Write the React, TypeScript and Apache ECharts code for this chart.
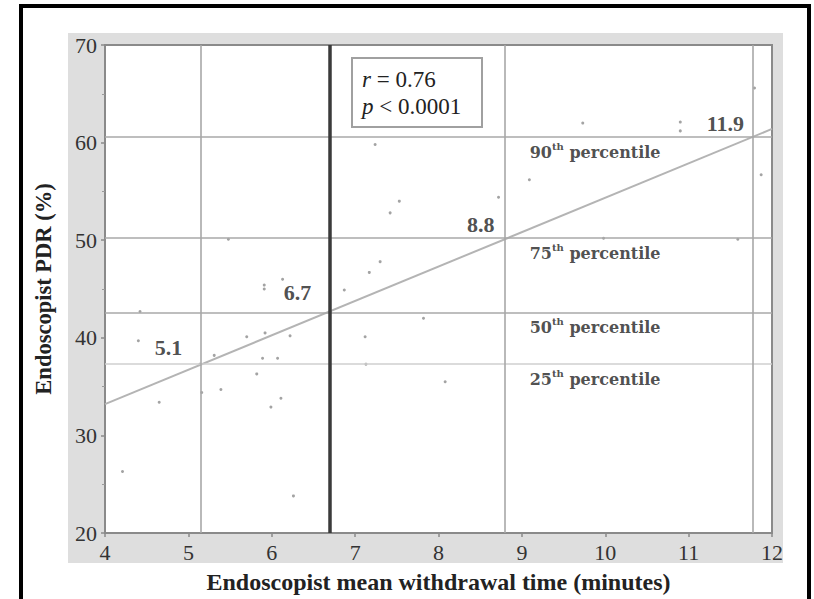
import React, { useEffect, useRef } from "react";
import * as echarts from "echarts";

// Endoscopist mean withdrawal time (minutes) and PDR (%)
const withdrawalTime = [
  4.21, 4.4, 4.42, 4.65, 5.14, 5.16, 5.31, 5.39, 5.48, 5.7, 5.82, 5.89, 5.91, 5.91, 5.92, 5.99, 6.07, 6.11,
  6.13, 6.22, 6.26, 6.87, 7.12, 7.13, 7.17, 7.24, 7.3, 7.42, 7.53, 7.82, 8.08, 8.72, 9.09, 9.73, 9.98, 10.9,
  10.9, 11.59, 11.79, 11.87,
];
const pdr = [
  26.3, 39.7, 42.7, 33.4, 37.3, 34.4, 38.2, 34.7, 50.1, 40.1, 36.3, 37.9, 45.4, 45.0, 40.5, 32.9, 37.9, 33.8,
  46.0, 40.2, 23.8, 44.9, 40.1, 37.3, 46.7, 59.8, 47.8, 52.8, 54.0, 42.0, 35.5, 54.4, 56.2, 62.0, 50.2, 62.1,
  61.2, 50.1, 65.6, 56.7,
];

// Regression fit line endpoints
const fitX = [4, 12];
const fitY = [33.2, 61.4];

// Percentile thresholds of PDR and corresponding withdrawal times
const percentileNames = ["25", "50", "75", "90"];
const percentilePdr = [37.3, 42.6, 50.2, 60.6];
const cutTime = [5.15, 6.7, 8.8, 11.77];
const cutLabels = ["5.1", "6.7", "8.8", "11.9"];

const xTicks = { min: 4, max: 12, interval: 1 };
const yTicks = { min: 20, max: 70, interval: 10 };

const SERIF = "Liberation Serif, Times New Roman, DejaVu Serif, serif";
const WIDE_SERIF = "DejaVu Serif, serif";

export default function App() {
  const ref = useRef<HTMLDivElement>(null);

  useEffect(() => {
    if (!ref.current) return;
    const chart = echarts.init(ref.current, undefined, { renderer: "svg" });

    const points = withdrawalTime.map((t, i) => [t, pdr[i]]);
    const fit = fitX.map((x, i) => [x, fitY[i]]);

    const cutOffsets = [
      [-32, -16],
      [-32, -19],
      [-24, -13],
      [-27, -13],
    ];
    const cutData = cutTime.map((t, i) => ({
      value: [t, percentilePdr[i]],
      label: { position: cutOffsets[i] },
    }));
    const pctData = percentileNames.map((p, i) => ({
      value: [cutTime[2], percentilePdr[i]],
      label: {
        formatter: `{n|${p}}{s|th}{n| percentile}`,
      },
    }));

    const vLines = cutTime.map((t, i) => ({
      xAxis: t,
      lineStyle:
        i === 1
          ? { color: "#3a3a3a", width: 3.5, type: "solid" }
          : { color: "#a8a8a8", width: 1.6, type: "solid" },
    }));
    const hLines = percentilePdr.map((v, i) => ({
      yAxis: v,
      lineStyle: { color: i === 0 ? "#cfcfcf" : "#a8a8a8", width: 1.6, type: "solid" },
    }));

    chart.setOption({
      animation: false,
      backgroundColor: "#ffffff",
      textStyle: { fontFamily: SERIF },
      grid: {
        left: 105,
        right: 42,
        top: 45,
        bottom: 63,
        show: true,
        backgroundColor: "#ffffff",
        borderColor: "#8a8a8a",
        borderWidth: 2,
      },
      graphic: [
        {
          type: "rect",
          z: -10,
          shape: { x: 68, y: 33, width: 715, height: 530 },
          style: { fill: "#dedede" },
        },
        {
          type: "rect",
          z: 100,
          shape: { x: 21, y: 6, width: 788, height: 700 },
          style: { fill: "none", stroke: "#000000", lineWidth: 4 },
        },
        {
          type: "rect",
          z: 100,
          shape: { x: 352, y: 58, width: 130, height: 69 },
          style: { fill: "#ffffff", stroke: "#a0a0a0", lineWidth: 2 },
        },
        {
          type: "text",
          z: 101,
          x: 362,
          y: 79,
          style: {
            text: "{i|r} = 0.76",
            verticalAlign: "middle",
            rich: {
              i: { fontFamily: SERIF, fontSize: 23, fontStyle: "italic", fill: "#222" },
            },
            fontFamily: SERIF,
            fontSize: 23,
            fill: "#222",
          },
        },
        {
          type: "text",
          z: 101,
          x: 362,
          y: 106,
          style: {
            text: "{i|p} < 0.0001",
            verticalAlign: "middle",
            rich: {
              i: { fontFamily: SERIF, fontSize: 23, fontStyle: "italic", fill: "#222" },
            },
            fontFamily: SERIF,
            fontSize: 23,
            fill: "#222",
          },
        },
      ],
      xAxis: {
        type: "value",
        min: xTicks.min,
        max: xTicks.max,
        interval: xTicks.interval,
        name: "Endoscopist mean withdrawal time (minutes)",
        nameLocation: "middle",
        nameGap: 37,
        nameTextStyle: { fontFamily: SERIF, fontSize: 24, fontWeight: "bold", color: "#222" },
        axisLine: { show: true, lineStyle: { color: "#8a8a8a", width: 2 } },
        axisTick: { show: true, length: 4, lineStyle: { color: "#8a8a8a", width: 1.5 } },
        axisLabel: { fontFamily: SERIF, fontSize: 22, color: "#333", margin: 8 },
        splitLine: { show: false },
      },
      yAxis: {
        type: "value",
        min: yTicks.min,
        max: yTicks.max,
        interval: yTicks.interval,
        name: "Endoscopist PDR (%)",
        nameLocation: "middle",
        nameGap: 50,
        nameRotate: 90,
        nameTextStyle: { fontFamily: SERIF, fontSize: 22.5, fontWeight: "bold", color: "#222" },
        axisLine: { show: true, lineStyle: { color: "#8a8a8a", width: 2 } },
        axisTick: { show: true, length: 4, lineStyle: { color: "#8a8a8a", width: 1.5 } },
        minorTick: { show: true, splitNumber: 2, length: 3, lineStyle: { color: "#9a9a9a", width: 1 } },
        axisLabel: { fontFamily: SERIF, fontSize: 22, color: "#333", margin: 8 },
        splitLine: { show: false },
      },
      series: [
        {
          type: "scatter",
          name: "Endoscopists",
          data: points,
          symbol: "circle",
          symbolSize: 3,
          itemStyle: { color: "#8c8c8c" },
          z: 3,
          markLine: {
            silent: true,
            symbol: "none",
            label: { show: false },
            data: [...hLines, ...vLines],
          },
        },
        {
          type: "line",
          name: "Fit",
          data: fit,
          showSymbol: false,
          symbol: "none",
          lineStyle: { color: "#b4b4b4", width: 2 },
          z: 4,
        },
        {
          type: "scatter",
          name: "cut labels",
          data: cutData,
          symbolSize: 1,
          itemStyle: { color: "rgba(0,0,0,0)" },
          silent: true,
          z: 5,
          label: {
            show: true,
            align: "center",
            verticalAlign: "middle",
            formatter: (p: any) => cutLabels[p.dataIndex],
            fontFamily: SERIF,
            fontSize: 22,
            fontWeight: "bold",
            color: "#222",
          },
        },
        {
          type: "scatter",
          name: "percentile labels",
          data: pctData,
          symbolSize: 1,
          itemStyle: { color: "rgba(0,0,0,0)" },
          silent: true,
          z: 5,
          label: {
            show: true,
            position: [25, 16],
            align: "left",
            verticalAlign: "middle",
            rich: {
              n: { fontFamily: WIDE_SERIF, fontSize: 16, fontWeight: "bold", color: "#222", lineHeight: 22 },
              s: {
                fontFamily: WIDE_SERIF,
                fontSize: 10,
                fontWeight: "bold",
                color: "#222",
                lineHeight: 12,
                verticalAlign: "top",
              },
            },
          },
        },
      ],
    });

    return () => chart.dispose();
  }, []);

  return (
    <div
      ref={ref}
      style={{ position: "absolute", left: 0, top: 0, width: 814, height: 599 }}
    />
  );
}
